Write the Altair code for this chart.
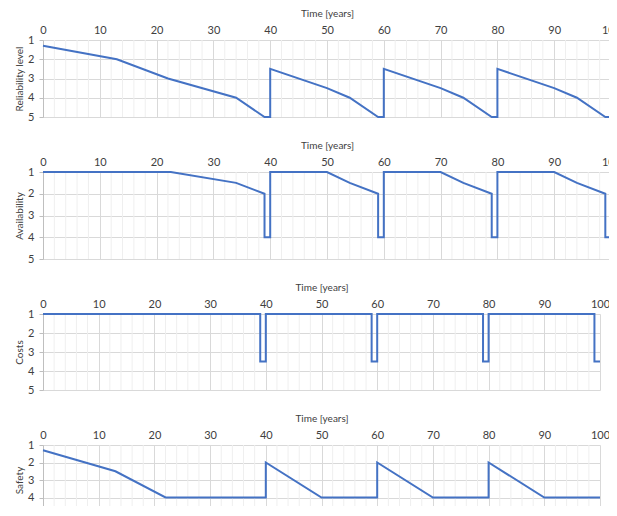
import altair as alt
import pandas as pd

# ---- data ----
years_major = [0, 10, 20, 30, 40, 50, 60, 70, 80, 90, 100]
years_minor = [t for t in range(0, 101, 2) if t % 10 != 0]
levels = [1, 2, 3, 4, 5]

rel_t = [0, 13, 22, 34, 39, 40, 40, 50, 54, 59, 60, 60, 70, 74, 79, 80, 80, 90, 94, 99, 100]
rel_v = [1.3, 2, 3, 4, 5, 5, 2.5, 3.5, 4, 5, 5, 2.5, 3.5, 4, 5, 5, 2.5, 3.5, 4, 5, 5]

av_t = [0, 22.5, 34, 39, 39, 40, 40, 50, 54, 59, 59, 60, 60, 70, 74, 79, 79, 80, 80, 90, 94, 99, 99, 100]
av_v = [1, 1, 1.5, 2, 4, 4, 1, 1, 1.5, 2, 4, 4, 1, 1, 1.5, 2, 4, 4, 1, 1, 1.5, 2, 4, 4]

cost_t = [0, 39, 39, 40, 40, 59, 59, 60, 60, 79, 79, 80, 80, 99, 99, 100]
cost_v = [1, 1, 3.5, 3.5, 1, 1, 3.5, 3.5, 1, 1, 3.5, 3.5, 1, 1, 3.5, 3.5]

saf_t = [0, 13, 22, 40, 40, 50, 60, 60, 70, 80, 80, 90, 100]
saf_v = [1.3, 2.5, 4, 4, 2, 4, 4, 2, 4, 4, 2, 4, 4]

x_title = "Time [years]"
y_titles = ["Reliability level", "Availability", "Costs", "Safety"]

FONT = "Lato"
LINE = "#4472C4"

x_axis = alt.Axis(
    orient="top",
    values=years_major,
    title=x_title,
    grid=True,
    gridColor="#d9d9d9",
    domain=False,
    ticks=False,
    labelFlush=False,
    labelPadding=5,
    labelFontSize=11,
    labelColor="#404040",
    labelFont=FONT,
    titleFont=FONT,
    titleFontSize=10,
    titleFontWeight="normal",
    titleColor="#404040",
    titlePadding=6,
)


def panel(t, v, ytitle, width, height):
    df = pd.DataFrame({"t": t, "v": v, "i": list(range(len(t)))})
    xscale = alt.Scale(domain=[0, 100], nice=False, zero=False)
    yscale = alt.Scale(domain=[1, 5], reverse=True, nice=False, zero=False)
    y_axis = alt.Axis(
        values=levels,
        title=ytitle,
        grid=True,
        gridColor="#d9d9d9",
        domain=True,
        domainColor="#bfbfbf",
        ticks=True,
        tickSize=4,
        tickColor="#bfbfbf",
        labelFlush=False,
        labelPadding=5,
        labelFontSize=11,
        labelColor="#404040",
        labelFont=FONT,
        titleFont=FONT,
        titleFontSize=10,
        titleFontWeight="normal",
        titleColor="#404040",
        titlePadding=3,
    )
    minor = alt.Chart(pd.DataFrame({"t": years_minor})).mark_rule(
        color="#efefef", strokeWidth=1
    ).encode(x=alt.X("t:Q", scale=xscale, axis=x_axis))
    line = alt.Chart(df).mark_line(color=LINE, strokeWidth=2).encode(
        x=alt.X("t:Q", scale=xscale, axis=x_axis),
        y=alt.Y("v:Q", scale=yscale, axis=y_axis),
        order=alt.Order("i:Q"),
    )
    return alt.layer(minor, line).properties(width=width, height=height)


p1 = panel(rel_t, rel_v, y_titles[0], 568, 77)
p2 = panel(av_t, av_v, y_titles[1], 568, 87)
p3 = panel(cost_t, cost_v, y_titles[2], 557, 76)
p4 = panel(saf_t, saf_v, y_titles[3], 557, 70)

chart = alt.vconcat(p1, p2, p3, p4, spacing=55, bounds="flush").properties(
    autosize=alt.AutoSizeParams(type="none"),
    padding={"left": 35, "top": 32, "right": 566, "bottom": 466},
).configure_view(stroke=None)

chart.save("out.html", embed_options={"renderer": "svg", "actions": False})
